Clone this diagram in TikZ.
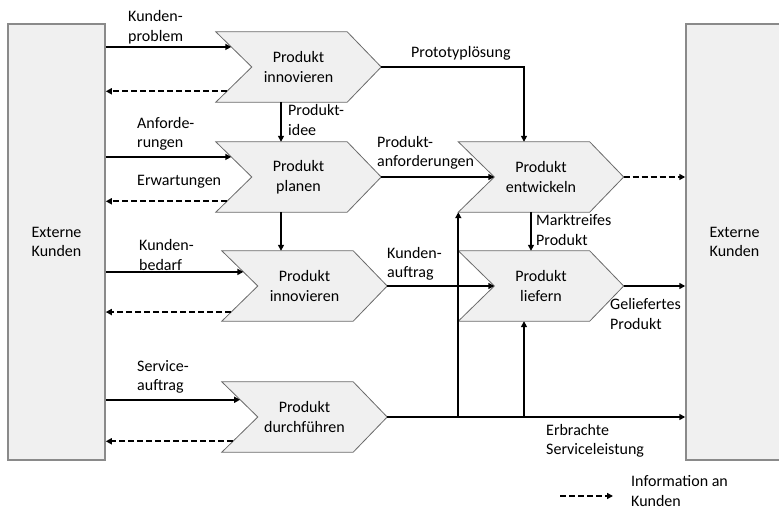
\documentclass[tikz,border=0pt]{standalone}
\usepackage{fontspec}
\setmainfont{Carlito}
\usetikzlibrary{arrows.meta,calc,backgrounds}
\definecolor{boxfill}{HTML}{F0F0F0}
\definecolor{boxline}{HTML}{8A8A8A}
\definecolor{chevline}{HTML}{6A6A6A}
\begin{document}
\begin{tikzpicture}[x=1pt,y=-1pt,
  every node/.style={font=\fontsize{16}{19.5}\selectfont},
  lbl/.style={anchor=west,align=left,inner sep=0pt},
  chev/.style={minimum width=165pt,minimum height=70pt,inner sep=0pt,align=center},
  chevshape/.style={fill=boxfill,draw=chevline,line width=0.8pt},
  extbox/.style={fill=boxfill,draw=boxline,line width=1.5pt,minimum width=97pt,
    minimum height=436pt,align=center,inner sep=0pt},
  flow/.style={line width=1.8pt,-{Triangle[length=6pt,width=6pt]}},
  info/.style={flow,dash pattern=on 6pt off 3pt}]
\useasboundingbox (0,0) rectangle (779,510);

% external customers on both sides
\node[extbox] (L) at (56.5,242) {Externe\\Kunden};
\node[extbox] (R) at (734.5,242) {Externe\\Kunden};

% process steps (chevrons)
\node[chev] (c1) at (298.5,67)  {Produkt\\innovieren};
\node[chev] (c2) at (298.5,177) {Produkt\\planen};
\node[chev] (c3) at (304.5,286) {Produkt\\innovieren};
\node[chev] (c4) at (304.5,417) {Produkt\\durchführen};
\node[chev] (c5) at (541,177)   {Produkt\\entwickeln};
\node[chev] (c6) at (541,286)   {Produkt\\liefern};

\begin{scope}[on background layer]
  \foreach \n in {c1,c2,c3,c4,c5,c6}{
    \filldraw[chevshape] (\n.north west) -- ([xshift=-34pt]\n.north east) -- (\n.east)
      -- ([xshift=-34pt]\n.south east) -- (\n.south west) -- ([xshift=36pt]\n.west) -- cycle;
    \coordinate (\n-n) at ([xshift=36pt]\n.west);
  }
\end{scope}

% points on the notched left edges
\coordinate (k1) at ($(c1.north west)!0.43!(c1-n)$);
\coordinate (d1) at ($(c1-n)!0.69!(c1.south west)$);
\coordinate (k2) at ($(c2.north west)!0.43!(c2-n)$);
\coordinate (d2) at ($(c2-n)!0.69!(c2.south west)$);
\coordinate (k3) at ($(c3.north west)!0.60!(c3-n)$);
\coordinate (d3) at ($(c3-n)!0.74!(c3.south west)$);
\coordinate (k4) at ($(c4.north west)!0.51!(c4-n)$);
\coordinate (d4) at ($(c4-n)!0.69!(c4.south west)$);

% customer inputs and information back to the customer
\draw[flow] (L.east |- k1) -- (k1);
\draw[info] (d1) -- (L.east |- d1);
\draw[flow] (L.east |- k2) -- (k2);
\draw[info] (d2) -- (L.east |- d2);
\draw[flow] (L.east |- k3) -- (k3);
\draw[info] (d3) -- (L.east |- d3);
\draw[flow] (L.east |- k4) -- (k4);
\draw[info] (d4) -- (L.east |- d4);

% internal flows
\draw[flow] ([xshift=-17.5pt]c1.south) -- ([xshift=-17.5pt]c2.north);
\draw[flow] ([xshift=-17.5pt]c2.south) -- ([xshift=-17.5pt]c2.south |- c3.north);
\draw[flow] (c1.east) -| ([xshift=-17pt]c5.north);
\draw[flow] (c2.east) -- (c5-n);
\draw[flow] ([xshift=-10pt]c5.south) -- ([xshift=-10pt]c6.north);
\draw[flow] (c3.east) -- (c6-n);

% outputs to the customer
\draw[info] (c5.east) -- (R.west |- c5.east);
\draw[flow] (c6.east) -- (R.west |- c6.east);
\draw[flow] (c4.east) -- (R.west |- c4.east);
\coordinate (j1) at (c5.south west |- c4.east);
\coordinate (j2) at ([xshift=-17pt]c6.south |- c4.east);
\draw[flow] (j1) -- (c5.south west);
\draw[flow] (j2) -- ([xshift=-17pt]c6.south);

% flow labels
\node[lbl] (t1)  at (128,27)  {Kunden-\\problem};
\node[lbl] (t2)  at (288,120) {Produkt-\\idee};
\node[lbl] (t3)  at (137,134) {Anforde-\\rungen};
\node[lbl] (t4)  at (137,182) {Erwartungen};
\node[lbl] (t5)  at (139,255) {Kunden-\\bedarf};
\node[lbl] (t6)  at (137,377) {Service-\\auftrag};
\node[lbl] (t7)  at (411,53)  {Prototyplösung};
\node[lbl] (t8)  at (377,153) {Produkt-\\anforderungen};
\node[lbl] (t9)  at (536,230) {Marktreifes\\Produkt};
\node[lbl] (t10) at (387,264) {Kunden-\\auftrag};
\node[lbl] (t11) at (610,314) {Geliefertes\\Produkt};
\node[lbl] (t12) at (546,441) {Erbrachte\\Serviceleistung};

% legend
\coordinate (lg1) at (560,496);
\coordinate (lg2) at (613,496);
\draw[info] (lg1) -- (lg2);
\node[lbl] (t13) at (631,491) {Information an\\Kunden};
\end{tikzpicture}
\end{document}
